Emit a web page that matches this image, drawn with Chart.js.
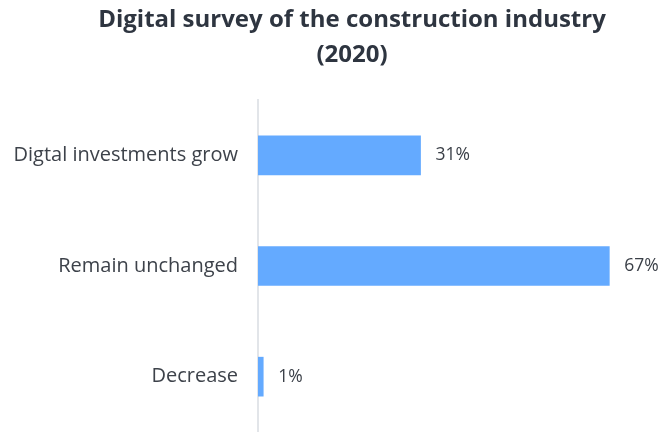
<!DOCTYPE html>
<html>
<head>
<meta charset="utf-8">
<style>
  html, body { margin: 0; padding: 0; background: #ffffff; overflow: hidden; }
  #wrap { width: 669px; height: 432px; position: relative; }
</style>
<script src="https://cdn.jsdelivr.net/npm/chart.js@4/dist/chart.umd.min.js"></script>
</head>
<body>
<div id="wrap"><canvas id="chart"></canvas></div>
<script>
const titleLines = ['Digital survey of the construction industry', '(2020)'];
const categories = ['Digtal investments grow', 'Remain unchanged', 'Decrease'];
const shares = [31, 67, 1];

const FONT = '"Open Sans", "DejaVu Sans", sans-serif';

// Two-line heading, centred a little right of the canvas middle
const headingPlugin = {
  id: 'heading',
  afterDraw(chart) {
    const ctx = chart.ctx;
    ctx.save();
    ctx.fillStyle = '#2e3540';
    ctx.font = 'bold 24px ' + FONT;
    ctx.textAlign = 'center';
    ctx.textBaseline = 'alphabetic';
    ctx.fillText(titleLines[0], 352, 27);
    ctx.fillText(titleLines[1], 352, 62);
    ctx.restore();
  }
};

// Percentage labels after each bar end
const valueLabels = {
  id: 'valueLabels',
  afterDatasetsDraw(chart) {
    const ctx = chart.ctx;
    const meta = chart.getDatasetMeta(0);
    ctx.save();
    ctx.fillStyle = '#3a3f47';
    ctx.font = '17.5px ' + FONT;
    ctx.textAlign = 'left';
    ctx.textBaseline = 'middle';
    meta.data.forEach((bar, i) => {
      ctx.fillText(shares[i] + '%', bar.x + 15, bar.y);
    });
    ctx.restore();
  }
};

new Chart(document.getElementById('chart'), {
  type: 'bar',
  data: {
    labels: categories,
    datasets: [{
      data: shares,
      backgroundColor: '#64aaff',
      borderWidth: 0,
      barThickness: 39
    }]
  },
  options: {
    indexAxis: 'y',
    responsive: true,
    maintainAspectRatio: false,
    animation: false,
    layout: { padding: { top: 100, right: 2, bottom: 0, left: 0 } },
    plugins: {
      legend: { display: false },
      title: { display: false },
      tooltip: { enabled: false }
    },
    scales: {
      x: {
        display: false,
        min: 0,
        max: 78
      },
      y: {
        afterFit(scale) {
          scale.width = 258;
          scale.paddingTop = 0;
          scale.paddingBottom = 0;
        },
        grid: { display: false, drawTicks: false },
        border: { display: true, color: '#e2e5e9', width: 2 },
        ticks: {
          padding: 20,
          color: '#3d424a',
          font: { family: FONT, size: 20 }
        }
      }
    }
  },
  plugins: [headingPlugin, valueLabels]
});
</script>
</body>
</html>
